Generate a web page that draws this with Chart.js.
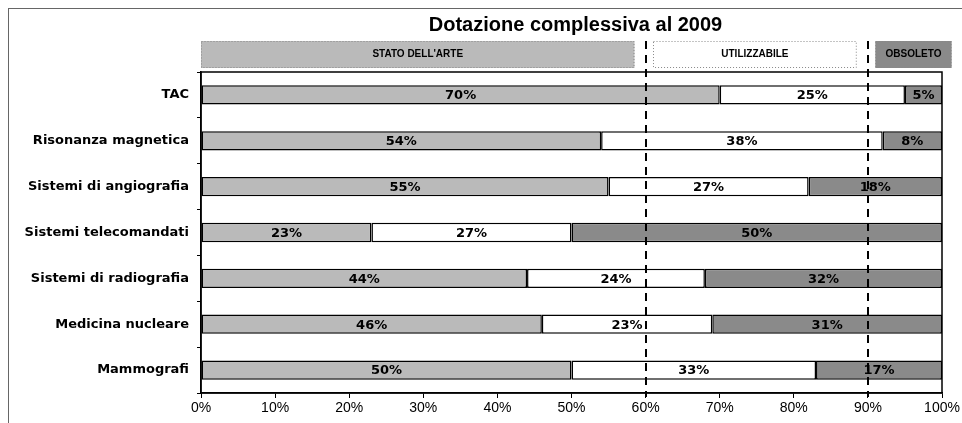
<!DOCTYPE html>
<html>
<head>
<meta charset="utf-8">
<script src="https://cdn.jsdelivr.net/npm/chart.js@4/dist/chart.umd.min.js"></script>
<style>
    body { margin: 0; background: #fff; }
    #wrap { position: relative; width: 962px; height: 423px; }
    #frame { position: absolute; left: 8px; top: 8px; right: 0; bottom: 0; border-left: 1px solid #666; border-top: 1px solid #666; }
</style>
</head>
<body>
<div id="wrap">
    <div id="frame"></div>
    <canvas id="chart" width="962" height="423"></canvas>
</div>
<script>
        // dati
        const categorie = ['TAC', 'Risonanza magnetica', 'Sistemi di angiografia', 'Sistemi telecomandati',
                           'Sistemi di radiografia', 'Medicina nucleare', 'Mammografi'];
        const statoArte = [70, 54, 55, 23, 44, 46, 50];
        const utilizzabile = [25, 38, 27, 27, 24, 23, 33];
        const obsoleto = [5, 8, 18, 50, 32, 31, 17];
        const serieNomi = ['STATO DELL\'ARTE', 'UTILIZZABILE', 'OBSOLETO'];
        const xTicks = [0, 10, 20, 30, 40, 50, 60, 70, 80, 90, 100];
        const soglie = [60, 90];
        const titolo = 'Dotazione complessiva al 2009';

        const colori = ['#bababa', '#ffffff', '#8a8a8a'];

        // titolo, riquadri intestazione, linee tratteggiate, etichette
        const decorPlugin = {
            id: 'decor',
            afterDraw(chart) {
                const ctx = chart.ctx;
                const area = chart.chartArea;
                const x = chart.scales.x;

                ctx.save();
                // cornice area grafico
                ctx.strokeStyle = '#000';
                ctx.lineWidth = 1.5;
                ctx.strokeRect(area.left, area.top, area.right - area.left, area.bottom - area.top);

                // titolo
                ctx.fillStyle = '#000';
                ctx.font = 'bold 20px Arial';
                ctx.textAlign = 'center';
                ctx.textBaseline = 'middle';
                ctx.fillText(titolo, (area.left + area.right) / 2 + 4, 25);

                // riquadri intestazione
                const range = [[0, 58.5], [61, 88.5], [91, 101.3]];
                const top = 41, h = 27;
                range.forEach((r, i) => {
                    const x1 = x.getPixelForValue(r[0]);
                    const x2 = x.getPixelForValue(r[1]);
                    ctx.fillStyle = colori[i];
                    ctx.fillRect(x1, top, x2 - x1, h);
                    ctx.setLineDash([1, 2]);
                    ctx.lineWidth = 1;
                    ctx.strokeStyle = '#888';
                    ctx.strokeRect(x1 + 0.5, top + 0.5, x2 - x1 - 1, h - 1);
                    ctx.setLineDash([]);
                    ctx.fillStyle = '#000';
                    ctx.font = 'bold 10px Arial';
                    ctx.fillText(serieNomi[i], (x1 + x2) / 2, top + h / 2);
                });

                // linee tratteggiate
                ctx.strokeStyle = '#000';
                ctx.lineWidth = 2;
                ctx.setLineDash([8, 6]);
                soglie.forEach(v => {
                    const px = Math.round(x.getPixelForValue(v));
                    ctx.beginPath();
                    ctx.moveTo(px, top);
                    ctx.lineTo(px, area.bottom + 4);
                    ctx.stroke();
                });
                ctx.setLineDash([]);

                // etichette percentuali
                ctx.font = 'bold 13px "DejaVu Sans"';
                ctx.fillStyle = '#000';
                chart.data.datasets.forEach((ds, di) => {
                    chart.getDatasetMeta(di).data.forEach((bar, i) => {
                        const left = Math.min(bar.x, bar.base);
                        const right = Math.max(bar.x, bar.base);
                        ctx.fillText(ds.data[i] + '%', (left + right) / 2, bar.y + 1);
                    });
                });
                ctx.restore();
            }
        };

        new Chart(document.getElementById('chart'), {
            type: 'bar',
            data: {
                labels: categorie,
                datasets: [statoArte, utilizzabile, obsoleto].map((d, i) => ({
                    label: serieNomi[i],
                    data: d,
                    backgroundColor: colori[i],
                    borderColor: '#000',
                    borderWidth: 1.5,
                    borderSkipped: false,
                    barPercentage: 0.42,
                    categoryPercentage: 1
                }))
            },
            options: {
                indexAxis: 'y',
                responsive: false,
                animation: false,
                layout: { padding: { top: 72, right: 20, left: 0, bottom: 0 } },
                plugins: {
                    legend: { display: false },
                    title: { display: false },
                    tooltip: { enabled: false }
                },
                scales: {
                    x: {
                        stacked: true,
                        min: 0,
                        max: 100,
                        afterBuildTicks: s => { s.ticks = xTicks.map(v => ({ value: v })); },
                        afterFit: s => { s.height = 30; },
                        ticks: {
                            color: '#000',
                            font: { family: 'Arial', size: 14 },
                            padding: 2,
                            callback: v => v + '%'
                        },
                        grid: { drawOnChartArea: false, tickLength: 5, color: '#000' },
                        border: { color: '#000', width: 1.5 }
                    },
                    y: {
                        stacked: true,
                        afterFit: s => { s.width = 201; },
                        ticks: {
                            color: '#000',
                            font: { family: 'DejaVu Sans', size: 13, weight: 'bold' },
                            padding: 8
                        },
                        grid: { drawOnChartArea: false, tickLength: 4, color: '#000', offset: true },
                        border: { color: '#000', width: 1.5 }
                    }
                }
            },
            plugins: [decorPlugin]
        });
</script>
</body>
</html>
